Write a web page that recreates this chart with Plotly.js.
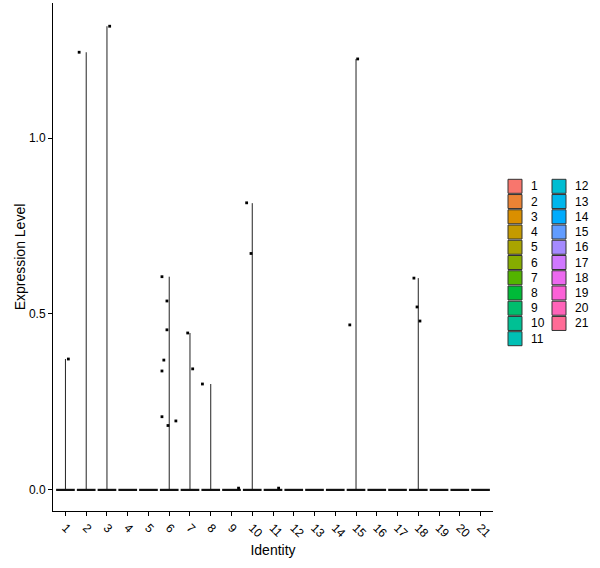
<!DOCTYPE html>
<html>
<head>
<meta charset="utf-8">
<script src="https://cdn.plot.ly/plotly-3.0.1.min.js"></script>
<style>html,body{margin:0;padding:0;background:#fff;}#chart{width:600px;height:568px;}</style>
</head>
<body>
<div id="chart"></div>
<script>
// ---- data ----
var categories = ['1','2','3','4','5','6','7','8','9','10','11','12','13','14','15','16','17','18','19','20','21'];
// maximum expression level per identity (violin top)
var maxValues = [0.372, 1.244, 1.318, 0, 0, 0.606, 0.446, 0.301, 0.005, 0.815, 0.005, 0, 0, 0, 1.225, 0, 0, 0.602, 0, 0, 0];
// non-zero cells (identity, value, jitter)
var pointCat    = ['1','2','3','6','6','6','6','6','6','6','6','7','7','8','9','10','10','11','15','15','18','18','18'];
var pointVal    = [0.372, 1.244, 1.318, 0.606, 0.537, 0.455, 0.369, 0.338, 0.208, 0.183, 0.196, 0.446, 0.344, 0.301, 0.005, 0.816, 0.672, 0.005, 1.225, 0.469, 0.602, 0.520, 0.480];
var pointJitter = [0.14, -0.34, 0.13, -0.35, -0.11, -0.11, -0.26, -0.35, -0.35, -0.06, 0.32, -0.11, 0.13, -0.40, 0.34, -0.27, -0.06, 0.27, 0.08, -0.30, -0.21, -0.06, 0.08];
var yTickVals   = [0, 0.5, 1];
var yTickText   = ['0.0', '0.5', '1.0'];

// ---- ggplot hue palette (style) ----
function hcl2hex(h, c, l) {
  var hr = h * Math.PI / 180, u = c * Math.cos(hr), v = c * Math.sin(hr);
  var Xn = 95.047, Yn = 100, Zn = 108.883;
  var un = 4 * Xn / (Xn + 15 * Yn + 3 * Zn), vn = 9 * Yn / (Xn + 15 * Yn + 3 * Zn);
  var Y = l > 8 ? Yn * Math.pow((l + 16) / 116, 3) : Yn * l * Math.pow(3 / 29, 3);
  var up = u / (13 * l) + un, vp = v / (13 * l) + vn;
  var X = Y * 9 * up / (4 * vp), Z = Y * (12 - 3 * up - 20 * vp) / (4 * vp);
  X /= 100; Y /= 100; Z /= 100;
  var r = 3.2404542 * X - 1.5371385 * Y - 0.4985314 * Z;
  var g = -0.9692660 * X + 1.8760108 * Y + 0.0415560 * Z;
  var b = 0.0556434 * X - 0.2040259 * Y + 1.0572252 * Z;
  function gam(t) { t = t <= 0.0031308 ? 12.92 * t : 1.055 * Math.pow(t, 1 / 2.4) - 0.055; t = Math.max(0, Math.min(1, t)); var s = Math.round(t * 255).toString(16); return s.length < 2 ? '0' + s : s; }
  return '#' + gam(r) + gam(g) + gam(b);
}
var n = categories.length;
var colors = categories.map(function (c, i) { return hcl2hex(15 + i * 360 / n, 100, 65); });

// ---- traces ----
var traces = [];
var hx = [], hy = [], vx = [], vy = [];
categories.forEach(function (c, i) {
  var xc = i + 1;
  hx.push(xc - 0.45, xc + 0.45, null); hy.push(0, 0, null);
  if (maxValues[i] > 0.01) { vx.push(xc, xc, null); vy.push(0, maxValues[i], null); }
});
traces.push({x: vx, y: vy, type: 'scatter', mode: 'lines', line: {color: '#222', width: 1}, showlegend: false, hoverinfo: 'skip'});
traces.push({x: hx, y: hy, type: 'scatter', mode: 'lines', line: {color: '#111', width: 2.2}, showlegend: false, hoverinfo: 'skip'});
traces.push({
  x: pointCat.map(function (c, k) { return categories.indexOf(c) + 1 + pointJitter[k]; }),
  y: pointVal, type: 'scatter', mode: 'markers',
  marker: {color: '#000', size: 2.8, symbol: 'square'}, showlegend: false, hoverinfo: 'skip'
});

// ---- legend (two columns, ggplot style) ----
var plotL = 53, plotR = 493, plotT = 3, plotB = 511;
function px2x(px) { return (px - plotL) / (plotR - plotL); }
function py2y(py) { return (plotB - py) / (plotB - plotT); }
var shapes = [], annotations = [];
var rowsPerCol = 11, keyTop = 179.3, rowH = 15.24, keyW = 14, keyH = 14;
var colKeyX = [508, 552];
categories.forEach(function (c, i) {
  var col = Math.floor(i / rowsPerCol), row = i % rowsPerCol;
  var x0 = colKeyX[col], y0 = keyTop + row * rowH;
  shapes.push({type: 'rect', xref: 'paper', yref: 'paper',
    x0: px2x(x0), x1: px2x(x0 + keyW), y0: py2y(y0), y1: py2y(y0 + keyH),
    fillcolor: colors[i], line: {color: '#333', width: 1}});
  annotations.push({xref: 'paper', yref: 'paper', x: px2x(x0 + keyW + 7), y: py2y(y0 + keyH / 2),
    xanchor: 'left', yanchor: 'middle', text: c, showarrow: false,
    font: {family: 'Liberation Sans, Arial, sans-serif', size: 12, color: '#000'}});
});

var tickFont = {family: 'Liberation Sans, Arial, sans-serif', size: 12, color: '#000'};
var titleFont = {family: 'Liberation Sans, Arial, sans-serif', size: 14, color: '#000'};
var layout = {
  width: 600, height: 568,
  margin: {l: plotL, r: 600 - plotR, t: plotT, b: 568 - plotB},
  paper_bgcolor: '#fff', plot_bgcolor: '#fff',
  font: {family: 'Liberation Sans, Arial, sans-serif', size: 12, color: '#000'},
  showlegend: false,
  xaxis: {
    range: [0.4, 21.6], tickmode: 'array', tickvals: categories.map(function (c, i) { return i + 1; }), ticktext: categories,
    tickangle: 45, ticks: 'outside', ticklen: 4, tickcolor: '#000', showline: true, linecolor: '#000', linewidth: 1,
    showgrid: false, zeroline: false, tickfont: tickFont,
    title: {text: 'Identity', font: titleFont, standoff: 5}
  },
  yaxis: {
    range: [-0.06, 1.384], tickmode: 'array', tickvals: yTickVals, ticktext: yTickText,
    ticks: 'outside', ticklen: 4, tickcolor: '#000', showline: true, linecolor: '#000', linewidth: 1,
    showgrid: false, zeroline: false, tickfont: tickFont,
    title: {text: 'Expression Level', font: titleFont, standoff: 0}
  },
  shapes: shapes,
  annotations: annotations
};
Plotly.newPlot('chart', traces, layout, {displayModeBar: false, staticPlot: true});
</script>
</body>
</html>
